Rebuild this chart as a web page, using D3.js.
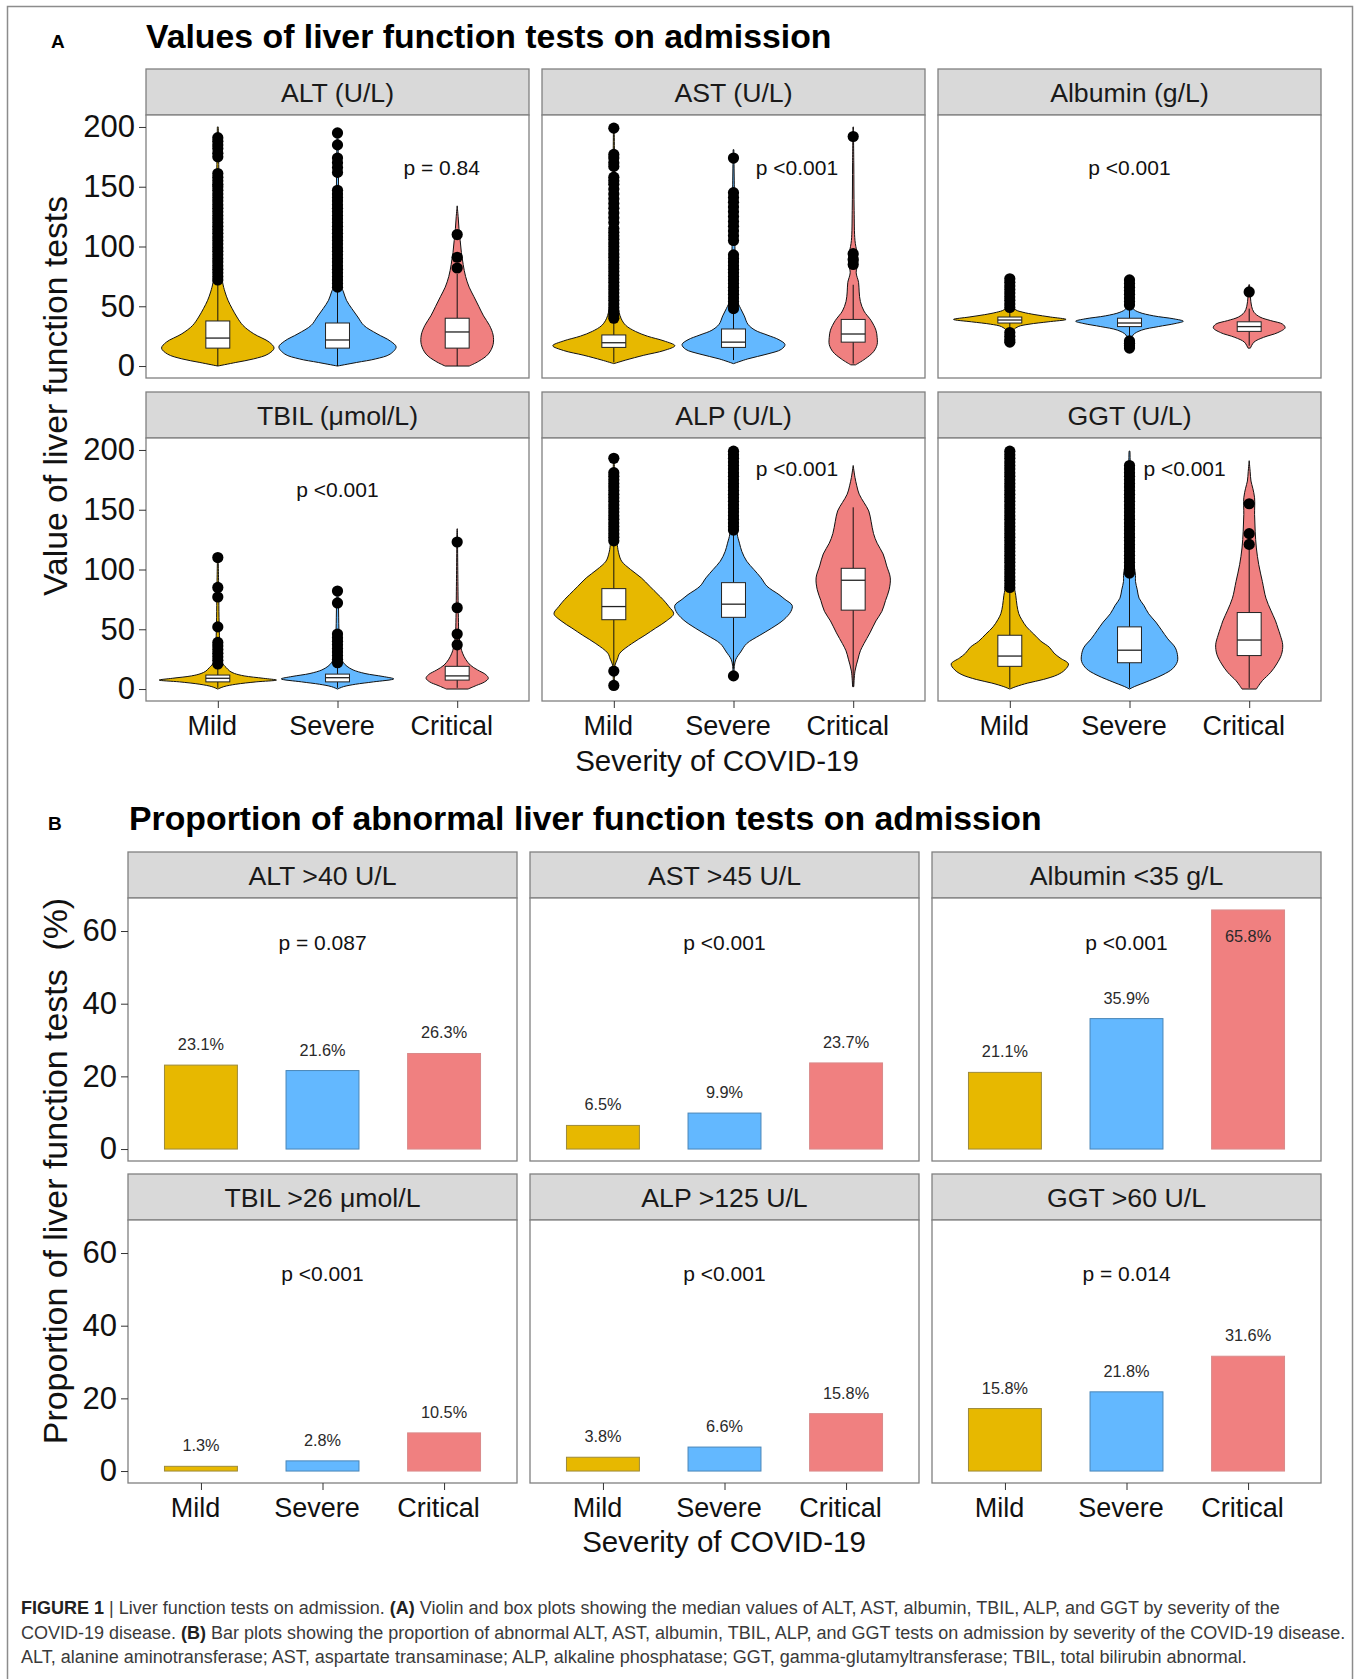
<!DOCTYPE html>
<html><head><meta charset="utf-8">
<script src="https://cdn.jsdelivr.net/npm/d3@7"></script>
<style>
body{margin:0;background:#fff}
svg{display:block}
text{font-family:"Liberation Sans",Arial,Helvetica,sans-serif}
</style>
</head><body>
<svg id="chart" width="1360" height="1679"></svg>
<script>
// ---------------- DATA ----------------
const severity = ["Mild", "Severe", "Critical"];

// Part A: violin + box plots
const testsA = ["ALT (U/L)", "AST (U/L)", "Albumin (g/L)", "TBIL (\u03bcmol/L)", "ALP (U/L)", "GGT (U/L)"];
const pValuesA = ["p = 0.84", "p <0.001", "p <0.001", "p <0.001", "p <0.001", "p <0.001"];
const yTicksA = [0, 50, 100, 150, 200];

// violin profiles: [value, half-width in category units]
const violinALT = [
  [[0,0],[3,0.15],[6,0.3],[10,0.42],[15,0.47],[20,0.43],[27,0.3],[34,0.21],[41,0.16],[48,0.12],[55,0.085],[62,0.06],[70,0.04],[85,0.025],[110,0.015],[150,0.01],[200,0.004]],
  [[0,0],[3,0.16],[6,0.32],[10,0.44],[16,0.49],[21,0.44],[27,0.33],[34,0.22],[41,0.17],[48,0.12],[55,0.075],[62,0.05],[66,0.035],[85,0.02],[120,0.012],[160,0.008],[196,0.004]],
  [[0,0.1],[4,0.18],[10,0.26],[18,0.3],[26,0.3],[34,0.27],[42,0.22],[50,0.18],[58,0.14],[66,0.1],[75,0.07],[85,0.05],[95,0.035],[105,0.025],[115,0.015],[125,0.008],[134,0]]
];
const boxALT = [[0,15,23.4,37.7,71],[0,15,21.8,36,65],[0,15,28.5,40,77]];
const outliersALT = [
  [72,75,78,81,84,87,90,93,96,99,102,105,108,111,114,117,120,123,126,129,132,135,138,141,144,147,150,152,155,158,161,175,178,182,185,188,191],
  [66,69,72,75,78,81,84,87,90,93,96,99,102,105,108,111,114,117,120,123,126,129,132,135,138,141,144,147,162,166,170,174,185,195],
  [82,91,110]
];

const violinAST = [
  [[2,0],[5,0.1],[9,0.25],[13,0.42],[17,0.51],[21,0.42],[25,0.28],[29,0.18],[34,0.1],[40,0.06],[50,0.035],[70,0.02],[100,0.012],[150,0.008],[199,0.003]],
  [[2,0],[6,0.12],[10,0.28],[14,0.4],[18,0.43],[22,0.38],[26,0.28],[30,0.18],[35,0.12],[42,0.09],[48,0.06],[55,0.03],[70,0.02],[100,0.012],[140,0.008],[181,0.003]],
  [[1,0.02],[6,0.1],[12,0.17],[18,0.2],[24,0.2],[30,0.19],[38,0.15],[46,0.09],[54,0.06],[62,0.05],[70,0.045],[78,0.025],[84,0.035],[90,0.04],[96,0.03],[105,0.015],[130,0.008],[170,0.005],[200,0.002]]
];
const boxAST = [[3,15.6,19.5,26,38],[5,15.6,20,31,47],[2,20,26.8,39,68]];
const outliersAST = [
  [40,43,46,49,52,55,58,61,64,67,70,73,76,79,82,85,88,91,94,97,100,103,106,109,112,115,120,124,128,132,136,140,144,148,152,155,158,167,170,174,177,199],
  [48,51,54,57,60,63,66,69,72,75,78,81,84,87,90,93,105,109,113,117,121,125,129,133,137,141,145,174],
  [85,89,94,192]
];

const violinAlb = [
  [[20,0.003],[25,0.01],[30,0.03],[33,0.07],[35,0.16],[37,0.32],[39,0.47],[41,0.34],[43,0.21],[45,0.11],[47,0.05],[50,0.025],[56,0.015],[65,0.008],[73,0.003]],
  [[13,0.003],[20,0.01],[26,0.03],[30,0.1],[33,0.24],[35.5,0.38],[37.5,0.45],[39.5,0.37],[42,0.2],[45,0.08],[48,0.03],[55,0.015],[65,0.008],[73,0.003]],
  [[15,0.01],[20,0.04],[24,0.12],[28,0.24],[32,0.3],[35,0.28],[38,0.18],[41,0.09],[45,0.04],[50,0.02],[58,0.01],[68,0.003]]
];
const boxAlb = [[29,36,38.5,41,48],[23,33,36,40,50],[17,29,33,37,48]];
const outliersAlb = [
  [20,22,25,28,49,52,55,58,61,64,67,70,73],
  [15,17,19,21,51,54,57,60,63,66,69,72],
  [62]
];

const violinTBIL = [
  [[0,0],[2,0.05],[4,0.15],[6,0.32],[7.5,0.49],[9,0.38],[11,0.22],[13,0.14],[15,0.1],[18,0.07],[20,0.05],[24,0.025],[30,0.02],[40,0.015],[60,0.01],[80,0.008],[110,0.003]],
  [[0,0],[2,0.05],[4,0.15],[6,0.3],[8.5,0.47],[10.5,0.38],[13,0.23],[16,0.13],[19,0.08],[22,0.05],[26,0.03],[35,0.02],[50,0.012],[70,0.008],[82,0.003]],
  [[0,0.09],[3,0.16],[6,0.23],[9,0.26],[12,0.24],[16,0.17],[20,0.11],[25,0.07],[30,0.045],[35,0.03],[45,0.015],[60,0.01],[90,0.006],[134,0.002]]
];
const boxTBIL = [[1,6,9,11.7,20],[1,6,9.5,12.5,21],[1,7.5,11,19,35]];
const outliersTBIL = [
  [21,24,27,30,33,36,39,52,77,85,110],
  [22,25,28,31,34,37,40,43,46,72,82],
  [37,46,68,123]
];

const violinALP = [
  [[0,0.003],[10,0.005],[20,0.01],[25,0.03],[30,0.05],[38,0.15],[45,0.26],[51,0.35],[57,0.44],[63,0.5],[69,0.46],[75,0.41],[79,0.37],[86,0.3],[93,0.23],[100,0.14],[107,0.065],[114,0.04],[120,0.03],[140,0.015],[170,0.008],[193,0.003]],
  [[11,0.003],[20,0.008],[25,0.02],[31,0.06],[38,0.11],[45,0.22],[51,0.32],[58,0.42],[65,0.48],[70,0.49],[75,0.43],[79,0.38],[86,0.28],[93,0.23],[100,0.17],[107,0.11],[115,0.07],[122,0.05],[130,0.03],[150,0.015],[180,0.008],[202,0.003]],
  [[2,0.005],[15,0.015],[25,0.04],[32,0.06],[38,0.09],[47,0.14],[57,0.19],[65,0.24],[74,0.27],[83,0.3],[93,0.31],[103,0.28],[113,0.25],[122,0.2],[130,0.17],[140,0.15],[149,0.13],[156,0.09],[163,0.05],[170,0.03],[177,0.015],[187,0]]
];
const boxALP = [[20,58,69,84,122],[17,60,71,89,132],[2,66,91,101,152]];
const outliersALP = [
  [3,15,124,127,130,133,136,139,142,145,148,151,154,157,160,163,166,169,172,175,178,181,193],
  [11,133,136,139,142,145,148,151,154,157,160,163,166,169,172,175,178,181,184,187,190,193,196,199],
  []
];

const violinGGT = [
  [[0,0],[2,0.05],[5,0.15],[8,0.28],[12,0.4],[16,0.46],[21,0.49],[26,0.42],[30,0.37],[35,0.33],[40,0.26],[46,0.2],[52,0.14],[58,0.1],[63,0.075],[70,0.06],[78,0.05],[84,0.04],[100,0.025],[140,0.015],[200,0.005]],
  [[0,0],[2,0.04],[4,0.09],[8,0.19],[12,0.28],[17,0.36],[23,0.4],[29,0.4],[35,0.38],[42,0.32],[49,0.27],[56,0.22],[63,0.16],[70,0.12],[76,0.08],[83,0.065],[90,0.05],[95,0.05],[110,0.03],[150,0.015],[199,0.004]],
  [[0,0.06],[3,0.08],[7,0.11],[14,0.18],[21,0.23],[29,0.27],[37,0.28],[45,0.26],[51,0.24],[57,0.22],[66,0.18],[76,0.14],[90,0.11],[104,0.08],[118,0.06],[132,0.05],[146,0.045],[160,0.045],[168,0.03],[174,0.015],[182,0.008],[191,0]]
];
const boxGGT = [[1,19,27.6,45,84],[1,22,32.5,52,95],[1,28,41,64,118]];
const outliersGGT = [
  [85,88,91,94,97,100,103,106,109,112,115,118,121,124,127,130,133,136,139,142,145,148,151,154,157,160,163,166,169,172,175,178,181,184,187,190,193,196,199],
  [97,100,103,106,109,112,115,118,121,124,127,130,133,136,139,142,145,148,151,154,157,160,163,166,169,172,175,178,181,184,187],
  [121,130,155]
];

// Part B: bar plots (percentage abnormal)
const testsB = ["ALT >40 U/L", "AST >45 U/L", "Albumin <35 g/L", "TBIL >26 \u03bcmol/L", "ALP >125 U/L", "GGT >60 U/L"];
const pValuesB = ["p = 0.087", "p <0.001", "p <0.001", "p <0.001", "p <0.001", "p = 0.014"];
const yTicksB = [0, 20, 40, 60];
const barALT = [23.1, 21.6, 26.3];
const barAST = [6.5, 9.9, 23.7];
const barAlb = [21.1, 35.9, 65.8];
const barTBIL = [1.3, 2.8, 10.5];
const barALP = [3.8, 6.6, 15.8];
const barGGT = [17.2, 21.8, 31.6];
const labelALT = ["23.1%", "21.6%", "26.3%"];
const labelAST = ["6.5%", "9.9%", "23.7%"];
const labelAlb = ["21.1%", "35.9%", "65.8%"];
const labelTBIL = ["1.3%", "2.8%", "10.5%"];
const labelALP = ["3.8%", "6.6%", "15.8%"];
const labelGGT = ["15.8%", "21.8%", "31.6%"];

// ---------------- STYLE / LAYOUT ----------------
const fills = ["#E7B800", "#63B8FF", "#F08080"];
const barStrokes = ["#9c8a3c", "#4a86b8", "#d98a8a"];
const layoutA = {lefts: [146, 542, 938], w: 383, stripTops: [69, 392], stripH: 46, panelH: 263, yDomain: [-10, 210]};
const layoutB = {lefts: [128, 530, 932], w: 389, stripTops: [852, 1174], stripH: 46, panelH: 263, yDomain: [-3.29, 69.09]};
const pPosA = [[2.87, 166], [2.53, 166], [2, 166], [2, 167], [2.53, 184], [2.46, 184]];
const pPosBx = 2, pPosBy = [56.8, 54.4];

const violinSets = [violinALT, violinAST, violinAlb, violinTBIL, violinALP, violinGGT];
const boxSets = [boxALT, boxAST, boxAlb, boxTBIL, boxALP, boxGGT];
const outlierSets = [outliersALT, outliersAST, outliersAlb, outliersTBIL, outliersALP, outliersGGT];
const barSets = [barALT, barAST, barAlb, barTBIL, barALP, barGGT];
const labelSets = [labelALT, labelAST, labelAlb, labelTBIL, labelALP, labelGGT];

const svg = d3.select("#chart");
const font = '"Liberation Sans",Arial,Helvetica,sans-serif';

// outer frame
svg.append("rect").attr("x", 7.5).attr("y", 6.5).attr("width", 1345).attr("height", 1720)
  .attr("fill", "none").attr("stroke", "#8c8c8c").attr("stroke-width", 1.5);

function panelGeom(L, k) {
  const col = k % 3, row = Math.floor(k / 3);
  const x0 = L.lefts[col], st = L.stripTops[row];
  const top = st + L.stripH, bottom = top + L.panelH;
  const x = d3.scalePoint().domain(severity).range([x0, x0 + L.w]).padding(0.6);
  const y = d3.scaleLinear().domain(L.yDomain).range([bottom, top]);
  return {col, row, x0, st, top, bottom, x, y};
}

function drawStrip(g, L, G, label) {
  g.append("rect").attr("x", G.x0).attr("y", G.st).attr("width", L.w).attr("height", L.stripH)
    .attr("fill", "#D9D9D9").attr("stroke", "#808080").attr("stroke-width", 1.3);
  g.append("text").attr("x", G.x0 + L.w / 2).attr("y", G.st + L.stripH / 2 + 9.5)
    .attr("text-anchor", "middle").attr("font-size", 26.7).attr("fill", "#1a1a1a").text(label);
  g.append("rect").attr("x", G.x0).attr("y", G.top).attr("width", L.w).attr("height", L.panelH).attr("fill", "#fff");
}
function drawBorder(g, L, G) {
  g.append("rect").attr("x", G.x0).attr("y", G.top).attr("width", L.w).attr("height", L.panelH)
    .attr("fill", "none").attr("stroke", "#808080").attr("stroke-width", 1.3);
}
function drawAxes(g, G, ticks, showY, showX) {
  if (showY) {
    const ax = g.append("g").attr("transform", `translate(${G.x0},0)`)
      .call(d3.axisLeft(G.y).tickValues(ticks).tickSize(7).tickPadding(4));
    ax.select(".domain").remove();
    ax.selectAll("line").attr("stroke", "#333");
    ax.selectAll("text").attr("font-size", 31).attr("font-family", font).attr("fill", "#111");
  }
  if (showX) {
    const ax = g.append("g").attr("transform", `translate(0,${G.bottom})`)
      .call(d3.axisBottom(G.x).tickSize(7).tickPadding(8));
    ax.select(".domain").remove();
    ax.selectAll("line").attr("stroke", "#333");
    ax.selectAll("text").attr("font-size", 27).attr("font-family", font).attr("fill", "#111").attr("dx", -6);
  }
}

// ---------------- PART A ----------------
svg.append("text").attr("x", 51).attr("y", 48).attr("font-size", 19).attr("font-weight", "bold").text("A");
svg.append("text").attr("x", 146).attr("y", 48).attr("font-size", 33.8).attr("font-weight", "bold")
  .text("Values of liver function tests on admission");

testsA.forEach((name, k) => {
  const L = layoutA, G = panelGeom(L, k);
  const g = svg.append("g");
  drawStrip(g, L, G, name);
  const unit = G.x.step();
  const wS = d3.scaleLinear().domain([0, 1]).range([0, unit]);
  const clip = "clipA" + k;
  g.append("clipPath").attr("id", clip).append("rect").attr("x", G.x0).attr("y", G.top).attr("width", L.w).attr("height", L.panelH);
  const pg = g.append("g").attr("clip-path", `url(#${clip})`);
  severity.forEach((s, i) => {
    const cx = G.x(s);
    const prof = violinSets[k][i];
    const area = d3.area().curve(d3.curveCatmullRom.alpha(0.5))
      .y(d => G.y(d[0])).x0(d => cx - wS(d[1])).x1(d => cx + wS(d[1]));
    pg.append("path").attr("d", area(prof)).attr("fill", fills[i]).attr("stroke", "#111").attr("stroke-width", 1);
    const b = boxSets[k][i];
    const bw = wS(0.1);
    pg.append("line").attr("x1", cx).attr("x2", cx).attr("y1", G.y(b[0])).attr("y2", G.y(b[1])).attr("stroke", "#111").attr("stroke-width", 1);
    pg.append("line").attr("x1", cx).attr("x2", cx).attr("y1", G.y(b[3])).attr("y2", G.y(b[4])).attr("stroke", "#111").attr("stroke-width", 1);
    pg.append("rect").attr("x", cx - bw).attr("width", 2 * bw).attr("y", G.y(b[3])).attr("height", G.y(b[1]) - G.y(b[3]))
      .attr("fill", "#fff").attr("stroke", "#222").attr("stroke-width", 1);
    pg.append("line").attr("x1", cx - bw).attr("x2", cx + bw).attr("y1", G.y(b[2])).attr("y2", G.y(b[2])).attr("stroke", "#222").attr("stroke-width", 1.3);
    pg.selectAll(null).data(outlierSets[k][i]).enter().append("circle")
      .attr("cx", cx).attr("cy", d => G.y(d)).attr("r", 5.6).attr("fill", "#000");
  });
  const pp = pPosA[k];
  const px = G.x0 + (pp[0] - 0.4) * unit;
  g.append("text").attr("x", px).attr("y", G.y(pp[1])).attr("dy", "0.35em").attr("text-anchor", "middle")
    .attr("font-size", 21).attr("fill", "#111").text(pValuesA[k]);
  drawBorder(g, L, G);
  drawAxes(g, G, yTicksA, G.col === 0, G.row === 1);
});
svg.append("text").attr("transform", "translate(67,396) rotate(-90)").attr("text-anchor", "middle")
  .attr("font-size", 33.7).attr("fill", "#111").text("Value of liver function tests");
svg.append("text").attr("x", 717).attr("y", 771).attr("text-anchor", "middle")
  .attr("font-size", 29.5).attr("fill", "#111").text("Severity of COVID-19");

// ---------------- PART B ----------------
svg.append("text").attr("x", 48).attr("y", 830).attr("font-size", 19).attr("font-weight", "bold").text("B");
svg.append("text").attr("x", 129).attr("y", 830).attr("font-size", 33.8).attr("font-weight", "bold")
  .text("Proportion of abnormal liver function tests on admission");

testsB.forEach((name, k) => {
  const L = layoutB, G = panelGeom(L, k);
  const g = svg.append("g");
  drawStrip(g, L, G, name);
  const unit = G.x.step();
  const bw = unit * 0.6;
  severity.forEach((s, i) => {
    const v = barSets[k][i];
    const cx = G.x(s);
    g.append("rect").attr("x", cx - bw / 2).attr("width", bw).attr("y", G.y(v)).attr("height", G.y(0) - G.y(v))
      .attr("fill", fills[i]).attr("stroke", barStrokes[i]).attr("stroke-width", 1);
    let ly = G.y(v) - 15;
    if (ly - 16 < G.top) ly = G.y(v) + 32;
    g.append("text").attr("x", cx).attr("y", ly).attr("text-anchor", "middle").attr("font-size", 16.3)
      .attr("fill", "#2a2a2a").text(labelSets[k][i]);
  });
  g.append("text").attr("x", G.x0 + (pPosBx - 0.4) * unit).attr("y", G.y(pPosBy[G.row])).attr("dy", "0.35em")
    .attr("text-anchor", "middle").attr("font-size", 21).attr("fill", "#111").text(pValuesB[k]);
  drawBorder(g, L, G);
  drawAxes(g, G, yTicksB, G.col === 0, G.row === 1);
});
svg.append("text").attr("transform", "translate(67,1171) rotate(-90)").attr("text-anchor", "middle")
  .attr("font-size", 33.9).attr("fill", "#111").style("white-space", "pre").attr("xml:space", "preserve")
  .text("Proportion of liver function tests  (%)");
svg.append("text").attr("x", 724).attr("y", 1552).attr("text-anchor", "middle")
  .attr("font-size", 29.5).attr("fill", "#111").text("Severity of COVID-19");

// ---------------- CAPTION ----------------
const captionLines = [
  [["FIGURE 1", true], [" | Liver function tests on admission. ", false], ["(A)", true], [" Violin and box plots showing the median values of ALT, AST, albumin, TBIL, ALP, and GGT by severity of the", false]],
  [["COVID-19 disease. ", false], ["(B)", true], [" Bar plots showing the proportion of abnormal ALT, AST, albumin, TBIL, ALP, and GGT tests on admission by severity of the COVID-19 disease.", false]],
  [["ALT, alanine aminotransferase; AST, aspartate transaminase; ALP, alkaline phosphatase; GGT, gamma-glutamyltransferase; TBIL, total bilirubin abnormal.", false]]
];
const capY = [1614, 1639, 1663];
captionLines.forEach((parts, li) => {
  const t = svg.append("text").attr("x", 21).attr("y", capY[li]).attr("font-size", 18).attr("fill", "#3a3a3a")
    .attr("xml:space", "preserve").style("white-space", "pre");
  parts.forEach(p => t.append("tspan").attr("font-weight", p[1] ? "bold" : "normal").attr("fill", p[1] ? "#222" : "#3a3a3a").text(p[0]));
});
</script>
</body></html>
